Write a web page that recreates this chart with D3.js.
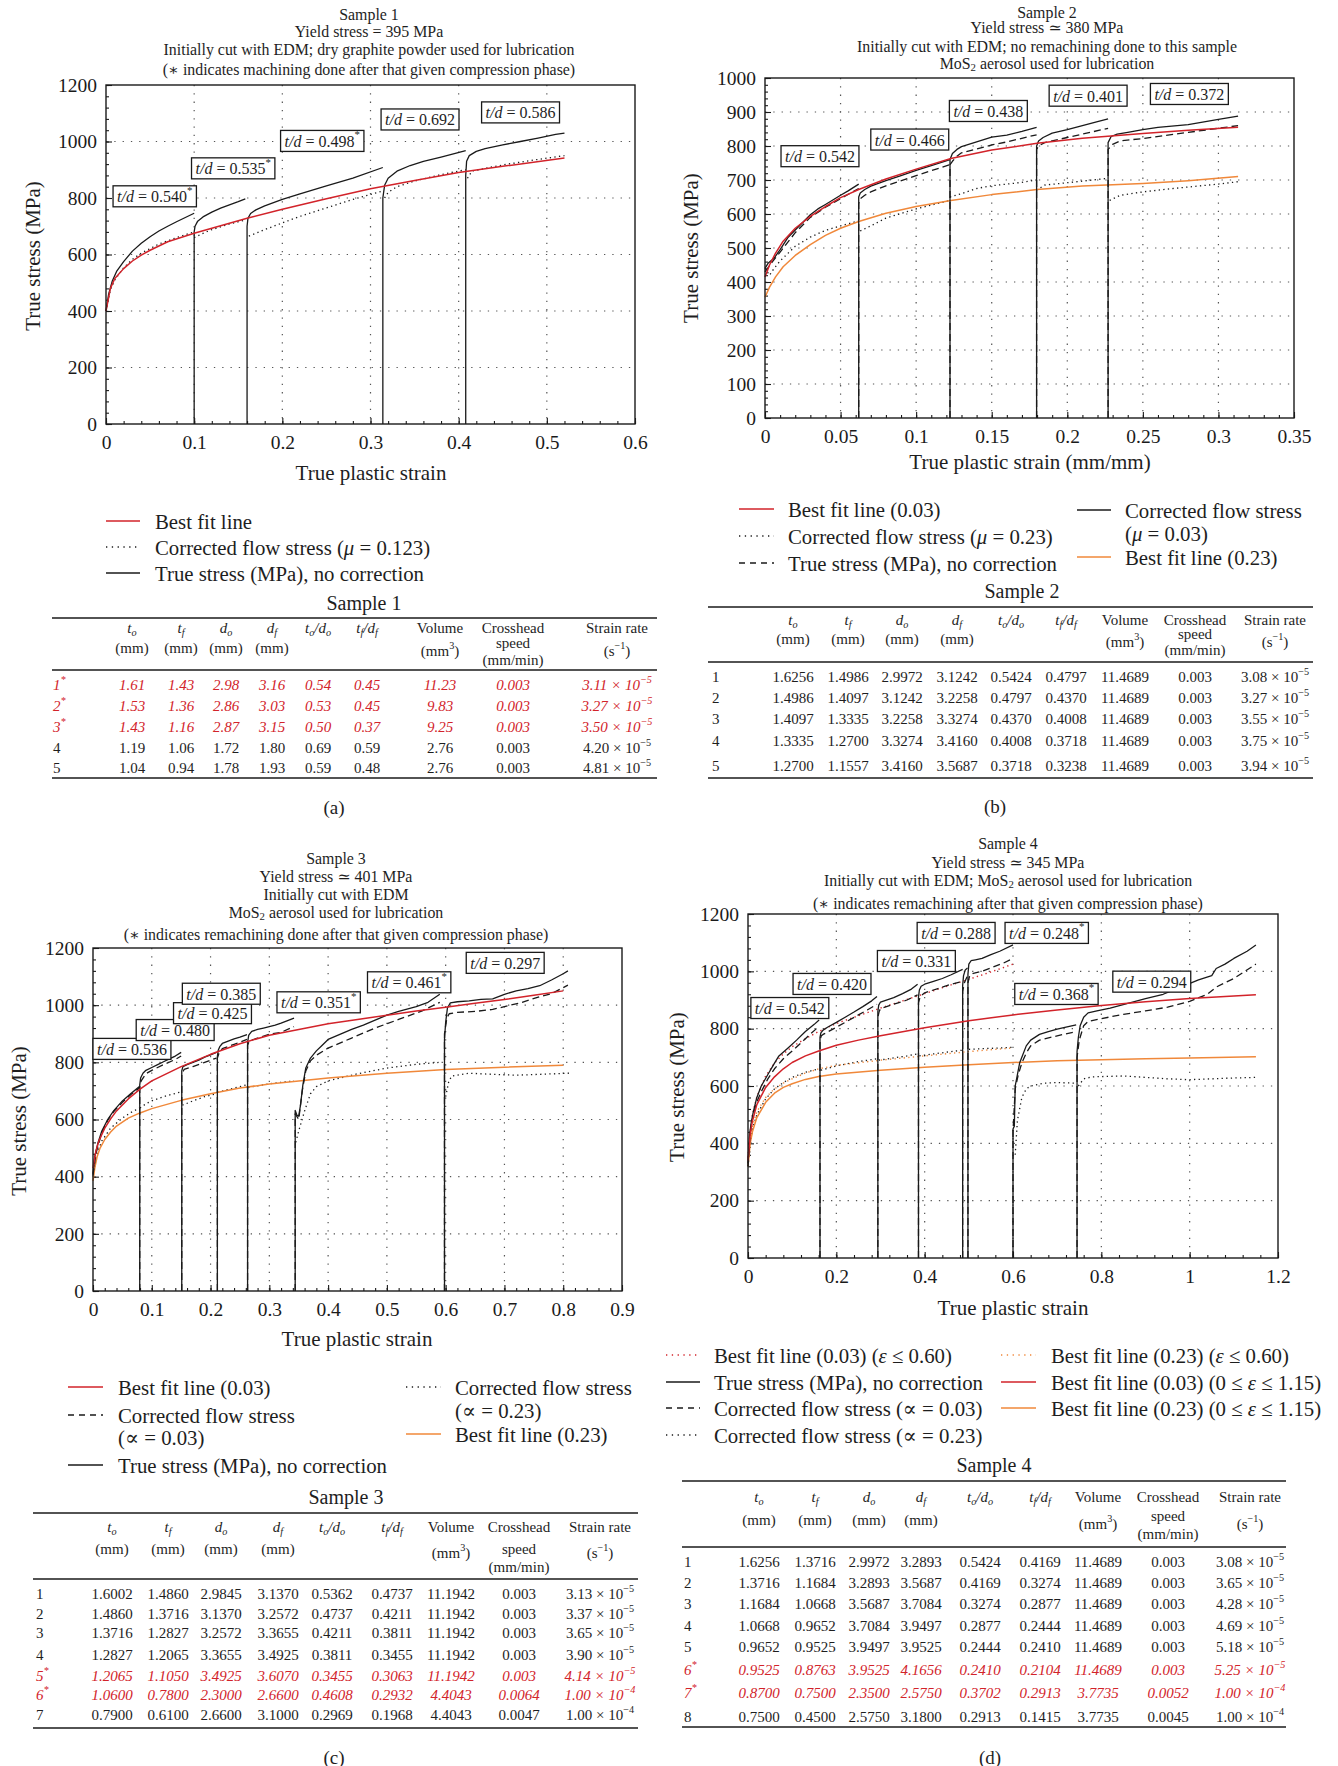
<!DOCTYPE html>
<html><head><meta charset="utf-8">
<script src="https://cdn.jsdelivr.net/npm/d3@7"></script>
<style>
body{margin:0;background:#fff}
svg{display:block}
text{font-family:"Liberation Serif","DejaVu Serif","Times New Roman",serif;fill:#1e1e1e}
</style>
</head><body>
<svg id="fig" width="1338" height="1766"></svg>
<script>
// ===================== DATA =====================
// ---- Sample 1 (panel a) ----
const a_bestFit = [[0,400],[0.005,480],[0.01,515],[0.02,550],[0.03,577],[0.04,598],[0.05,615],[0.07,645],[0.1,675],[0.13,702],[0.16,728],[0.2,760],[0.25,797],[0.3,833],[0.35,862],[0.4,890],[0.45,912],[0.52,942]];
const a_trueStress = [
  [[0,400],[0.003,460],[0.007,505],[0.012,540],[0.02,575],[0.03,612],[0.04,640],[0.05,663],[0.06,683],[0.07,700],[0.08,716],[0.09,731],[0.1,746]],
  [[0.1,0],[0.1,680],[0.101,700],[0.104,718],[0.11,733],[0.12,750],[0.13,764],[0.14,776],[0.15,787],[0.158,797]],
  [[0.16,0],[0.16,700],[0.161,728],[0.164,745],[0.17,758],[0.18,772],[0.2,795],[0.22,815],[0.25,843],[0.28,870],[0.314,908]],
  [[0.314,0],[0.314,800],[0.316,845],[0.32,870],[0.33,895],[0.345,915],[0.36,930],[0.38,945],[0.408,968]],
  [[0.408,0],[0.408,880],[0.409,930],[0.412,950],[0.42,965],[0.43,975],[0.45,988],[0.47,1000],[0.49,1012],[0.51,1025],[0.52,1030]]
];
const a_corrected = [
  [[0,400],[0.005,475],[0.01,510],[0.02,553],[0.03,583],[0.04,605],[0.06,637],[0.08,660],[0.1,680]],
  [[0.1,660],[0.11,675],[0.12,688],[0.13,698],[0.14,708],[0.158,722]],
  [[0.162,665],[0.17,675],[0.18,688],[0.2,712],[0.22,735],[0.25,765],[0.28,795],[0.314,825]],
  [[0.316,800],[0.32,820],[0.33,840],[0.35,860],[0.38,883],[0.408,900]],
  [[0.41,870],[0.415,895],[0.43,905],[0.45,917],[0.48,932],[0.52,950]]
];
const a_tdLabels = ["0.540*","0.535*","0.498*","0.692","0.586"];
const a_tdAnchors = [[0.008,806],[0.097,905],[0.198,1002],[0.312,1078],[0.426,1103]];
const a_legend = ["Best fit line","Corrected flow stress (~μ~ = 0.123)","True stress (MPa), no correction"];
const a_tableRows = [
  ["1*","1.61","1.43","2.98","3.16","0.54","0.45","11.23","0.003","3.11 × 10^{−5}"],
  ["2*","1.53","1.36","2.86","3.03","0.53","0.45","9.83","0.003","3.27 × 10^{−5}"],
  ["3*","1.43","1.16","2.87","3.15","0.50","0.37","9.25","0.003","3.50 × 10^{−5}"],
  ["4","1.19","1.06","1.72","1.80","0.69","0.59","2.76","0.003","4.20 × 10^{−5}"],
  ["5","1.04","0.94","1.78","1.93","0.59","0.48","2.76","0.003","4.81 × 10^{−5}"]
];

// ---- Sample 2 (panel b) ----
const b_bestFit003 = [[0,415],[0.003,450],[0.007,485],[0.012,520],[0.02,558],[0.03,593],[0.04,622],[0.05,648],[0.062,672],[0.08,703],[0.1,732],[0.123,763],[0.15,788],[0.18,808],[0.21,823],[0.25,837],[0.28,846],[0.313,855]];
const b_bestFit023 = [[0,355],[0.003,385],[0.007,415],[0.012,445],[0.02,478],[0.03,510],[0.04,537],[0.05,558],[0.062,578],[0.08,602],[0.1,622],[0.123,640],[0.15,657],[0.18,672],[0.21,682],[0.25,690],[0.28,698],[0.313,710]];
const b_corrected003 = [
  [[0,440],[0.002,455],[0.006,470],[0.01,495],[0.015,530],[0.02,553],[0.03,598],[0.035,615],[0.04,628],[0.05,655],[0.055,668],[0.062,688]],
  [[0.062,0],[0.062,650],[0.063,662],[0.066,672],[0.07,682],[0.08,698],[0.09,713],[0.1,728],[0.11,742],[0.1224,760]],
  [[0.1224,0],[0.1224,760],[0.124,778],[0.127,790],[0.13,798],[0.14,812],[0.15,826],[0.16,832],[0.17,843],[0.1797,855]],
  [[0.1797,0],[0.1797,800],[0.181,815],[0.184,825],[0.19,838],[0.2,848],[0.21,860],[0.22,872],[0.227,880]],
  [[0.227,0],[0.227,810],[0.229,828],[0.233,835],[0.24,840],[0.25,848],[0.26,855],[0.28,863],[0.3,878],[0.313,888]]
];
const b_trueStress = [
  [[0,430],[0.005,460],[0.01,488],[0.02,545],[0.03,590],[0.04,620],[0.05,645],[0.062,675]],
  [[0.062,0],[0.062,630],[0.063,645],[0.066,655],[0.07,665],[0.08,683],[0.1,713],[0.1224,745]],
  [[0.1224,0],[0.1224,745],[0.124,755],[0.127,770],[0.13,780],[0.15,803],[0.16,812],[0.1797,833]],
  [[0.1797,0],[0.1797,790],[0.181,800],[0.185,810],[0.2,825],[0.227,852]],
  [[0.227,0],[0.227,790],[0.23,805],[0.235,815],[0.25,822],[0.28,840],[0.313,860]]
];
const b_corrected023 = [
  [[0,440],[0.003,420],[0.006,440],[0.01,462],[0.02,505],[0.03,532],[0.04,552],[0.05,565],[0.062,580]],
  [[0.063,550],[0.07,565],[0.08,588],[0.1,615],[0.1224,640]],
  [[0.1224,650],[0.13,660],[0.14,675],[0.15,683],[0.17,693],[0.1797,700]],
  [[0.1797,670],[0.185,685],[0.2,692],[0.227,705]],
  [[0.228,640],[0.235,655],[0.25,665],[0.27,675],[0.3,688],[0.313,695]]
];
const b_tdLabels = ["0.542","0.466","0.438","0.401","0.372"];
const b_tdAnchors = [[0.0106,770],[0.070,819],[0.122,903],[0.188,948],[0.255,953]];
const b_legend = ["Best fit line (0.03)","Corrected flow stress (~μ~ = 0.23)","True stress (MPa), no correction","Corrected flow stress","(~μ~ = 0.03)","Best fit line (0.23)"];
const b_tableRows = [
  ["1","1.6256","1.4986","2.9972","3.1242","0.5424","0.4797","11.4689","0.003","3.08 × 10^{−5}"],
  ["2","1.4986","1.4097","3.1242","3.2258","0.4797","0.4370","11.4689","0.003","3.27 × 10^{−5}"],
  ["3","1.4097","1.3335","3.2258","3.3274","0.4370","0.4008","11.4689","0.003","3.55 × 10^{−5}"],
  ["4","1.3335","1.2700","3.3274","3.4160","0.4008","0.3718","11.4689","0.003","3.75 × 10^{−5}"],
  ["5","1.2700","1.1557","3.4160","3.5687","0.3718","0.3238","11.4689","0.003","3.94 × 10^{−5}"]
];

// ---- Sample 3 (panel c) ----
const c_bestFit003 = [[0,430],[0.005,490],[0.01,525],[0.02,570],[0.03,602],[0.04,630],[0.06,672],[0.08,706],[0.1,735],[0.15,785],[0.2,828],[0.25,865],[0.3,895],[0.35,915],[0.4,935],[0.45,950],[0.5,965],[0.55,980],[0.6,993],[0.65,1007],[0.7,1020],[0.75,1035],[0.8,1050]];
const c_bestFit023 = [[0,385],[0.003,430],[0.007,470],[0.012,500],[0.02,530],[0.03,556],[0.04,577],[0.06,605],[0.08,623],[0.1,638],[0.15,667],[0.2,690],[0.25,710],[0.3,724],[0.35,735],[0.4,745],[0.5,762],[0.6,775],[0.7,783],[0.8,790]];
const c_trueStress = [
  [[0,410],[0.003,470],[0.008,515],[0.015,560],[0.025,600],[0.035,630],[0.05,665],[0.065,692],[0.079,715]],
  [[0.0795,0],[0.0795,720],[0.081,745],[0.085,762],[0.09,772],[0.1,782],[0.11,792],[0.12,802],[0.13,812],[0.14,822],[0.15,835]],
  [[0.151,0],[0.151,770],[0.153,785],[0.16,792],[0.17,800],[0.18,808],[0.19,818],[0.2,826],[0.21,835]],
  [[0.2116,0],[0.2116,820],[0.213,842],[0.216,856],[0.22,866],[0.23,874],[0.24,882],[0.25,888],[0.262,897]],
  [[0.263,0],[0.263,870],[0.265,895],[0.27,908],[0.28,915],[0.29,920],[0.3,925],[0.31,930],[0.32,937],[0.33,945],[0.342,955]],
  [[0.344,0],[0.344,632],[0.347,615],[0.35,612],[0.353,650],[0.357,720],[0.362,780],[0.37,815],[0.38,840],[0.39,860],[0.4,880],[0.42,898],[0.44,915],[0.46,930],[0.48,948],[0.5,965],[0.52,978],[0.55,995],[0.57,1010],[0.59,1038]],
  [[0.598,0],[0.598,880],[0.6,940],[0.603,990],[0.608,1008],[0.62,1012],[0.64,1015],[0.66,1020],[0.68,1022],[0.7,1038],[0.72,1050],[0.74,1058],[0.76,1068],[0.78,1088],[0.8,1110],[0.808,1120]]
];
const c_corrected003 = [
  [[0,405],[0.005,480],[0.015,555],[0.025,597],[0.035,627],[0.05,660],[0.065,688],[0.079,710]],
  [[0.0795,0],[0.0795,715],[0.082,735],[0.09,760],[0.1,772],[0.12,792],[0.14,810],[0.15,822]],
  [[0.151,0],[0.151,760],[0.155,775],[0.17,785],[0.19,800],[0.21,815]],
  [[0.2116,0],[0.2116,815],[0.214,830],[0.22,848],[0.24,863],[0.262,880]],
  [[0.263,0],[0.263,860],[0.266,875],[0.28,885],[0.3,898],[0.32,905],[0.342,925]],
  [[0.344,0],[0.344,620],[0.35,600],[0.356,700],[0.362,770],[0.37,805],[0.38,825],[0.4,850],[0.44,885],[0.48,920],[0.52,950],[0.56,980],[0.59,1010]],
  [[0.598,0],[0.598,900],[0.602,955],[0.606,970],[0.62,975],[0.65,978],[0.68,985],[0.7,995],[0.73,1010],[0.76,1030],[0.78,1040],[0.808,1070]]
];
const c_corrected023 = [
  [[0,400],[0.005,470],[0.015,525],[0.03,570],[0.05,605],[0.065,625],[0.079,640]],
  [[0.08,640],[0.09,655],[0.1,665],[0.12,680],[0.15,697]],
  [[0.152,650],[0.17,665],[0.19,680],[0.21,690]],
  [[0.212,695],[0.23,705],[0.25,715],[0.262,722]],
  [[0.264,712],[0.28,718],[0.3,725],[0.32,730],[0.342,735]],
  [[0.345,520],[0.35,560],[0.36,630],[0.37,690],[0.38,715],[0.4,735],[0.45,760],[0.5,780],[0.55,793],[0.59,800]],
  [[0.6,680],[0.605,730],[0.61,752],[0.64,762],[0.68,758],[0.72,755],[0.76,758],[0.81,762]]
];
const c_tdLabels = ["0.536","0.480","0.425","0.385","0.351*","0.461*","0.297"];
const c_tdAnchors = [[0.0,847],[0.0735,913],[0.137,972],[0.152,1040],[0.313,1010],[0.467,1080],[0.635,1148]];
const c_legend = ["Best fit line (0.03)","Corrected flow stress","(∝ = 0.03)","True stress (MPa), no correction","Corrected flow stress","(∝ = 0.23)","Best fit line (0.23)"];
const c_tableRows = [
  ["1","1.6002","1.4860","2.9845","3.1370","0.5362","0.4737","11.1942","0.003","3.13 × 10^{−5}"],
  ["2","1.4860","1.3716","3.1370","3.2572","0.4737","0.4211","11.1942","0.003","3.37 × 10^{−5}"],
  ["3","1.3716","1.2827","3.2572","3.3655","0.4211","0.3811","11.1942","0.003","3.65 × 10^{−5}"],
  ["4","1.2827","1.2065","3.3655","3.4925","0.3811","0.3455","11.1942","0.003","3.90 × 10^{−5}"],
  ["5*","1.2065","1.1050","3.4925","3.6070","0.3455","0.3063","11.1942","0.003","4.14 × 10^{−5}"],
  ["6*","1.0600","0.7800","2.3000","2.6600","0.4608","0.2932","4.4043","0.0064","1.00 × 10^{−4}"],
  ["7","0.7900","0.6100","2.6600","3.1000","0.2969","0.1968","4.4043","0.0047","1.00 × 10^{−4}"]
];

// ---- Sample 4 (panel d) ----
const d_bestFit003 = [[0,340],[0.005,430],[0.01,478],[0.02,535],[0.04,595],[0.06,632],[0.08,660],[0.1,682],[0.13,705],[0.16,722],[0.2,742],[0.25,760],[0.3,775],[0.4,803],[0.5,828],[0.6,848],[0.7,865],[0.8,881],[0.9,894],[1.0,905],[1.1,914],[1.15,918]];
const d_bestFit023 = [[0,320],[0.005,400],[0.01,440],[0.02,490],[0.04,543],[0.06,575],[0.08,595],[0.1,608],[0.13,623],[0.16,633],[0.2,642],[0.3,655],[0.4,665],[0.5,674],[0.6,682],[0.7,688],[0.8,692],[0.9,695],[1.0,698],[1.15,702]];
const d_bestFit003_060 = [[0,350],[0.005,440],[0.01,500],[0.02,562],[0.04,635],[0.06,680],[0.08,712],[0.1,737],[0.13,765],[0.16,790],[0.2,818],[0.25,845],[0.3,872],[0.35,897],[0.4,922],[0.45,948],[0.5,972],[0.55,998],[0.6,1025]];
const d_bestFit023_060 = [[0,330],[0.005,420],[0.01,460],[0.02,510],[0.04,560],[0.06,590],[0.08,610],[0.1,625],[0.13,645],[0.16,660],[0.2,672],[0.3,690],[0.4,705],[0.5,720],[0.6,733]];
const d_trueStress = [
  [[0,330],[0.003,420],[0.007,470],[0.012,510],[0.02,560],[0.03,600],[0.045,640],[0.06,680],[0.07,705],[0.09,732],[0.11,760],[0.13,790],[0.15,815],[0.161,830]],
  [[0.163,0],[0.163,770],[0.165,785],[0.17,795],[0.18,805],[0.2,822],[0.22,840],[0.24,858],[0.26,877],[0.28,897],[0.292,912]],
  [[0.294,0],[0.294,860],[0.296,882],[0.3,893],[0.31,898],[0.33,908],[0.35,922],[0.37,938],[0.384,955]],
  [[0.386,0],[0.386,910],[0.388,935],[0.392,948],[0.4,955],[0.42,965],[0.44,975],[0.46,988],[0.486,1007]],
  [[0.486,0],[0.486,950],[0.488,985],[0.492,1005],[0.497,1012]],
  [[0.498,0],[0.498,990],[0.5,1025],[0.505,1037],[0.515,1040],[0.53,1045],[0.55,1058],[0.57,1070],[0.6,1092]],
  [[0.6,0],[0.6,450],[0.603,460],[0.605,600],[0.61,640],[0.615,680],[0.62,700],[0.63,740],[0.64,760],[0.66,780],[0.68,790],[0.7,798],[0.72,805],[0.743,813]],
  [[0.745,0],[0.745,720],[0.748,770],[0.752,810],[0.76,840],[0.77,855],[0.79,862],[0.82,872],[0.86,888],[0.9,905],[0.94,920],[0.98,945],[1.02,970],[1.05,985],[1.06,1010],[1.08,1025],[1.1,1045],[1.13,1070],[1.15,1092]]
];
const d_corrected003 = [
  [[0,320],[0.005,440],[0.012,500],[0.02,545],[0.03,580],[0.045,625],[0.06,660],[0.08,695],[0.1,722],[0.12,750],[0.14,780],[0.161,808]],
  [[0.163,0],[0.163,760],[0.166,775],[0.17,780],[0.18,788],[0.2,805],[0.22,822],[0.25,848],[0.27,865],[0.292,885]],
  [[0.294,0],[0.294,840],[0.297,860],[0.3,870],[0.33,885],[0.36,900],[0.384,918]],
  [[0.386,0],[0.386,890],[0.39,912],[0.4,925],[0.43,940],[0.46,955],[0.486,965]],
  [[0.486,0],[0.486,930],[0.49,960],[0.497,985]],
  [[0.498,0],[0.498,960],[0.502,985],[0.51,993],[0.53,1000],[0.55,1012],[0.58,1030],[0.6,1045]],
  [[0.6,0],[0.6,440],[0.605,590],[0.612,640],[0.62,680],[0.63,715],[0.64,740],[0.66,760],[0.7,775],[0.743,790]],
  [[0.745,0],[0.745,700],[0.75,760],[0.76,810],[0.77,825],[0.8,835],[0.85,850],[0.9,862],[0.95,875],[1.0,895],[1.04,920],[1.06,945],[1.1,975],[1.15,1025]]
];
const d_corrected023 = [
  [[0,320],[0.01,450],[0.02,500],[0.04,555],[0.06,590],[0.08,612],[0.1,630],[0.13,648],[0.161,660]],
  [[0.165,655],[0.2,670],[0.25,685],[0.292,695]],
  [[0.296,690],[0.33,698],[0.36,705],[0.384,712]],
  [[0.388,705],[0.42,712],[0.46,720],[0.486,725]],
  [[0.5,728],[0.53,730],[0.56,732],[0.6,735]],
  [[0.605,360],[0.61,480],[0.62,560],[0.63,590],[0.64,600],[0.67,610],[0.7,612],[0.743,610]],
  [[0.748,600],[0.76,625],[0.78,632],[0.85,635],[0.9,630],[0.95,625],[1.0,622],[1.05,625],[1.1,628],[1.15,630]]
];
const d_tdLabels = ["0.542","0.420","0.331","0.288","0.248*","0.368*","0.294"];
const d_tdAnchors = [[0.0065,872],[0.102,956],[0.293,1036],[0.383,1134],[0.582,1134],[0.604,921],[0.826,964]];
const d_legend = ["Best fit line (0.03) (~ε~ ≤ 0.60)","True stress (MPa), no correction","Corrected flow stress (∝ = 0.03)","Corrected flow stress (∝ = 0.23)","Best fit line (0.23) (~ε~ ≤ 0.60)","Best fit line (0.03) (0 ≤ ~ε~ ≤ 1.15)","Best fit line (0.23) (0 ≤ ~ε~ ≤ 1.15)"];
const d_tableRows = [
  ["1","1.6256","1.3716","2.9972","3.2893","0.5424","0.4169","11.4689","0.003","3.08 × 10^{−5}"],
  ["2","1.3716","1.1684","3.2893","3.5687","0.4169","0.3274","11.4689","0.003","3.65 × 10^{−5}"],
  ["3","1.1684","1.0668","3.5687","3.7084","0.3274","0.2877","11.4689","0.003","4.28 × 10^{−5}"],
  ["4","1.0668","0.9652","3.7084","3.9497","0.2877","0.2444","11.4689","0.003","4.69 × 10^{−5}"],
  ["5","0.9652","0.9525","3.9497","3.9525","0.2444","0.2410","11.4689","0.003","5.18 × 10^{−5}"],
  ["6*","0.9525","0.8763","3.9525","4.1656","0.2410","0.2104","11.4689","0.003","5.25 × 10^{−5}"],
  ["7*","0.8700","0.7500","2.3500","2.5750","0.3702","0.2913","3.7735","0.0052","1.00 × 10^{−4}"],
  ["8","0.7500","0.4500","2.5750","3.1800","0.2913","0.1415","3.7735","0.0045","1.00 × 10^{−4}"]
];

// shared table header labels
const tableHeaders = [
  [""],
  ["~t~_{~o~}","(mm)"],
  ["~t~_{~f~}","(mm)"],
  ["~d~_{~o~}","(mm)"],
  ["~d~_{~f~}","(mm)"],
  ["~t~_{~o~}~/d~_{~o~}"],
  ["~t~_{~f~}~/d~_{~f~}"],
  ["Volume","(mm^{3})"],
  ["Crosshead","speed","(mm/min)"],
  ["Strain rate","(s^{−1})"]
];

// titles
const a_title = ["Sample 1","Yield stress = 395 MPa","Initially cut with EDM; dry graphite powder used for lubrication","(∗ indicates machining done after that given compression phase)"];
const b_title = ["Sample 2","Yield stress ≃ 380 MPa","Initially cut with EDM; no remachining done to this sample","MoS_{2} aerosol used for lubrication"];
const c_title = ["Sample 3","Yield stress ≃ 401 MPa","Initially cut with EDM","MoS_{2} aerosol used for lubrication","(∗ indicates remachining done after that given compression phase)"];
const d_title = ["Sample 4","Yield stress ≃ 345 MPa","Initially cut with EDM; MoS_{2} aerosol used for lubrication","(∗ indicates remachining after that given compression phase)"];

// ===================== DRAWING =====================
const svg = d3.select('#fig');
const RED = '#d2232a', ORANGE = '#f0883a', INK = '#1a1a1a';
const STY = {
  red:{stroke:RED,w:1.5,dash:null},
  orange:{stroke:ORANGE,w:1.5,dash:null},
  solid:{stroke:INK,w:1.3,dash:null},
  dashed:{stroke:INK,w:1.3,dash:'7,4'},
  dotted:{stroke:INK,w:1.3,dash:'1.3,3.3'},
  redDot:{stroke:RED,w:1.4,dash:'1.3,3.3'},
  orangeDot:{stroke:ORANGE,w:1.4,dash:'1.3,3.3'}
};
const LEG_FS = 20.8, TITLE_FS = 15.9, AXT_FS = 21, TICK_FS = 19.5, TAB_FS = 15, TABT_FS = 20;

function rich(sel, markup, size){
  const runs=[]; let it=false, mode=0, buf='';
  const push=()=>{ if(buf){runs.push({t:buf,i:it,m:mode}); buf='';} };
  for(let k=0;k<markup.length;k++){
    const ch=markup[k];
    if(ch==='~'){push(); it=!it;}
    else if((ch==='_'||ch==='^')&&markup[k+1]==='{'){push(); mode=ch==='_'?1:2; k++;}
    else if(ch==='}'&&mode){push(); mode=0;}
    else buf+=ch;
  }
  push();
  let cur=0;
  runs.forEach(r=>{
    const target = r.m===1?0.28:(r.m===2?-0.42:0);
    const ts=sel.append('tspan').text(r.t);
    if(target!==cur) ts.attr('dy',((target-cur)*size)+'px');
    if(r.m) ts.attr('font-size',(size*0.68)+'px');
    if(r.i) ts.attr('font-style','italic');
    cur=target;
  });
  return sel;
}
function txt(x,y,markup,size,opts={}){
  const t=svg.append('text').attr('x',x).attr('y',y).attr('font-size',size+'px')
    .attr('dominant-baseline','central').attr('text-anchor',opts.anchor||'start');
  if(opts.fill) t.style('fill',opts.fill);
  if(opts.italic) t.attr('font-style','italic');
  if(opts.rotate) t.attr('transform',`rotate(-90,${x},${y})`);
  rich(t,markup,size);
  return t;
}
function styled(p,s,legend){
  p.attr('fill','none').attr('stroke',s.stroke).attr('stroke-width',s.w).attr('stroke-linejoin','round');
  if(s.dash) p.attr('stroke-dasharray', legend ? (s.dash==='7,4'?'6,5':'1.3,4.5') : s.dash);
  return p;
}

function drawChart(c){
  const x=d3.scaleLinear().domain([0,c.xMax]).range([c.left,c.right]);
  const y=d3.scaleLinear().domain([0,c.yMax]).range([c.bottom,c.top]);
  const g=svg.append('g');
  const nx=Math.round(c.xMax/c.xStep), ny=Math.round(c.yMax/c.yStep);
  const xMaj=d3.range(nx+1).map(i=>+(i*c.xStep).toFixed(5));
  const yMaj=d3.range(ny+1).map(i=>i*c.yStep);
  const xMin=d3.range(nx*c.minor+1).map(i=>i*c.xStep/c.minor);
  const yMin=d3.range(ny*c.minor+1).map(i=>i*c.yStep/c.minor);
  // grid
  g.append('g').selectAll('line').data(xMaj.slice(1,-1)).join('line')
    .attr('x1',d=>x(d)).attr('x2',d=>x(d)).attr('y1',c.top).attr('y2',c.bottom)
    .attr('stroke','#555').attr('stroke-width',1.2).attr('stroke-dasharray','1.3,7');
  g.append('g').selectAll('line').data(yMaj.slice(1,-1)).join('line')
    .attr('y1',d=>y(d)).attr('y2',d=>y(d)).attr('x1',c.left).attr('x2',c.right)
    .attr('stroke','#555').attr('stroke-width',1.2).attr('stroke-dasharray','1.3,7');
  // axes
  const fmt=v=>String(+v.toFixed(3));
  const styleAxis=a=>{a.select('.domain').remove(); a.attr('color',INK).attr('font-family','"Liberation Serif",serif').attr('font-size',TICK_FS);
    a.selectAll('text').style('fill',INK); a.selectAll('line').attr('stroke-width',1.1);};
  g.append('g').attr('transform',`translate(0,${c.bottom})`).call(d3.axisBottom(x).tickValues(xMin).tickSize(-3).tickFormat('')).call(styleAxis);
  g.append('g').attr('transform',`translate(${c.left},0)`).call(d3.axisLeft(y).tickValues(yMin).tickSize(-3).tickFormat('')).call(styleAxis);
  g.append('g').attr('transform',`translate(0,${c.bottom})`).call(d3.axisBottom(x).tickValues(xMaj).tickSize(-6).tickPadding(11).tickFormat(fmt)).call(styleAxis);
  g.append('g').attr('transform',`translate(${c.left},0)`).call(d3.axisLeft(y).tickValues(yMaj).tickSize(-6).tickPadding(9).tickFormat(fmt)).call(styleAxis);
  // curves
  const line=d3.line().x(d=>x(d[0])).y(d=>y(d[1]));
  c.series.forEach(s=>{
    s.segs.forEach(seg=>styled(g.append('path').attr('d',line(seg)),STY[s.style]));
  });
  // frame
  g.append('rect').attr('x',c.left).attr('y',c.top).attr('width',c.right-c.left).attr('height',c.bottom-c.top)
    .attr('fill','none').attr('stroke',INK).attr('stroke-width',1.4);
  // t/d boxes
  c.labels.forEach((lab,i)=>{
    const [lx,ly]=c.anchors[i];
    const t=g.append('text').attr('x',x(lx)+4).attr('y',y(ly)).attr('font-size','16px').attr('dominant-baseline','central');
    rich(t,'~t/d~ = '+lab.replace('*','^{*}'),16);
    const bb=t.node().getBBox();
    g.insert('rect',()=>t.node()).attr('x',x(lx)).attr('y',y(ly)-10.5).attr('width',bb.width+8).attr('height',21)
      .attr('fill','#fff').attr('stroke',INK).attr('stroke-width',1.3);
  });
  // titles
  c.title.forEach((tl,i)=>txt(c.titleX,c.titleY[i],tl,TITLE_FS,{anchor:'middle'}));
  txt(c.xTitle[0],c.xTitle[1],c.xLabel,AXT_FS,{anchor:'middle'});
  txt(c.yTitle[0],c.yTitle[1],'True stress (MPa)',AXT_FS,{anchor:'middle',rotate:true});
}

function legendItem(x1,x2,tx,yy,style,labels,gap){
  if(style) styled(svg.append('line').attr('x1',x1).attr('x2',x2).attr('y1',yy).attr('y2',yy),STY[style],true);
  labels.forEach((l,i)=>txt(tx,yy+i*gap,l,LEG_FS));
}

function drawTable(t,rows){
  txt(t.titleX,t.titleY,t.title,TABT_FS,{anchor:'middle'});
  t.rules.forEach(ry=>svg.append('line').attr('x1',t.x0).attr('x2',t.x1).attr('y1',ry).attr('y2',ry).attr('stroke',INK).attr('stroke-width',1.7));
  tableHeaders.forEach((h,ci)=>{
    h.forEach((ln,li)=>{
      if(!ln) return;
      let yy;
      if(li===0) yy=t.hy[0];
      else if(ci===8) yy = li===1?t.hy[3]:t.hy[4];
      else if(ci===7||ci===9) yy=t.hy[2];
      else yy=t.hy[1];
      txt(t.cols[ci],yy,ln,TAB_FS,{anchor:'middle'});
    });
  });
  rows.forEach((r,ri)=>{
    const marked=r[0].includes('*');
    r.forEach((cell,ci)=>{
      const m = ci===0 ? cell.replace('*','^{*}') : cell;
      txt(t.cols[ci], t.rows[ri], m, TAB_FS,
        {anchor:ci===0?'start':'middle', fill:marked?RED:null, italic:marked});
    });
  });
  txt(t.panelX,t.panelY,t.panel,19,{anchor:'middle'});
}

// ---------- Panel (a) ----------
drawChart({left:106,right:635,top:85,bottom:424,xMax:0.6,xStep:0.1,yMax:1200,yStep:200,minor:5,
  series:[
    {segs:a_corrected,style:'dotted'},
    {segs:a_trueStress,style:'solid'},
    {segs:[a_bestFit],style:'red'}],
  labels:a_tdLabels,anchors:a_tdAnchors,
  title:a_title,titleX:369,titleY:[14,31,49,69],
  xLabel:'True plastic strain',xTitle:[371,473],yTitle:[33,256]});
legendItem(106,140,155,521,'red',[a_legend[0]],0);
legendItem(106,140,155,547,'dotted',[a_legend[1]],0);
legendItem(106,140,155,573,'solid',[a_legend[2]],0);
drawTable({title:'Sample 1',titleX:364,titleY:603,x0:52,x1:657,rules:[618,670,778],
  hy:[628,648,651,643,660],rows:[685,706,727,748,768],
  cols:[53,132,181,226,272,318,367,440,513,617],panel:'(a)',panelX:334,panelY:807},a_tableRows);

// ---------- Panel (b) ----------
drawChart({left:765,right:1294,top:78,bottom:418,xMax:0.35,xStep:0.05,yMax:1000,yStep:100,minor:5,
  series:[
    {segs:b_corrected023,style:'dotted'},
    {segs:[b_bestFit023],style:'orange'},
    {segs:b_trueStress,style:'dashed'},
    {segs:b_corrected003,style:'solid'},
    {segs:[b_bestFit003],style:'red'}],
  labels:b_tdLabels,anchors:b_tdAnchors,
  title:b_title,titleX:1047,titleY:[12,27,46,63],
  xLabel:'True plastic strain (mm/mm)',xTitle:[1030,462],yTitle:[691,248]});
legendItem(739,774,788,509,'red',[b_legend[0]],0);
legendItem(739,774,788,536,'dotted',[b_legend[1]],0);
legendItem(739,774,788,563,'dashed',[b_legend[2]],0);
legendItem(1077,1111,1125,510,'solid',[b_legend[3],b_legend[4]],23);
legendItem(1077,1111,1125,557,'orange',[b_legend[5]],0);
drawTable({title:'Sample 2',titleX:1022,titleY:591,x0:708,x1:1313,rules:[607,662,778],
  hy:[620,639,642,634,650],rows:[677,698,719,741,766],
  cols:[712,793,848,902,957,1011,1066,1125,1195,1275],panel:'(b)',panelX:995,panelY:806},b_tableRows);

// ---------- Panel (c) ----------
drawChart({left:93,right:622,top:948,bottom:1291,xMax:0.9,xStep:0.1,yMax:1200,yStep:200,minor:5,
  series:[
    {segs:c_corrected023,style:'dotted'},
    {segs:[c_bestFit023],style:'orange'},
    {segs:c_corrected003,style:'dashed'},
    {segs:c_trueStress,style:'solid'},
    {segs:[c_bestFit003],style:'red'}],
  labels:c_tdLabels,anchors:c_tdAnchors,
  title:c_title,titleX:336,titleY:[858,876,894,912,934],
  xLabel:'True plastic strain',xTitle:[357,1339],yTitle:[19,1121]});
legendItem(68,103,118,1387,'red',[c_legend[0]],0);
legendItem(68,103,118,1415,'dashed',[c_legend[1],c_legend[2]],22);
legendItem(68,103,118,1465,'solid',[c_legend[3]],0);
legendItem(406,441,455,1387,'dotted',[c_legend[4],c_legend[5]],23);
legendItem(406,441,455,1434,'orange',[c_legend[6]],0);
drawTable({title:'Sample 3',titleX:346,titleY:1497,x0:33,x1:638,rules:[1513,1579,1728],
  hy:[1527,1549,1553,1549,1567],rows:[1594,1614,1633,1655,1676,1695,1715],
  cols:[36,112,168,221,278,332,392,451,519,600],panel:'(c)',panelX:334,panelY:1757},c_tableRows);

// ---------- Panel (d) ----------
drawChart({left:748,right:1278,top:914,bottom:1258,xMax:1.2,xStep:0.2,yMax:1200,yStep:200,minor:5,
  series:[
    {segs:d_corrected023,style:'dotted'},
    {segs:[d_bestFit023_060],style:'orangeDot'},
    {segs:[d_bestFit003_060],style:'redDot'},
    {segs:[d_bestFit023],style:'orange'},
    {segs:d_corrected003,style:'dashed'},
    {segs:d_trueStress,style:'solid'},
    {segs:[d_bestFit003],style:'red'}],
  labels:d_tdLabels,anchors:d_tdAnchors,
  title:d_title,titleX:1008,titleY:[843,862,880,903],
  xLabel:'True plastic strain',xTitle:[1013,1308],yTitle:[677,1087]});
legendItem(666,700,714,1355,'redDot',[d_legend[0]],0);
legendItem(666,700,714,1382,'solid',[d_legend[1]],0);
legendItem(666,700,714,1408,'dashed',[d_legend[2]],0);
legendItem(666,700,714,1435,'dotted',[d_legend[3]],0);
legendItem(1001,1036,1051,1355,'orangeDot',[d_legend[4]],0);
legendItem(1001,1036,1051,1382,'red',[d_legend[5]],0);
legendItem(1001,1036,1051,1408,'orange',[d_legend[6]],0);
drawTable({title:'Sample 4',titleX:994,titleY:1465,x0:682,x1:1286,rules:[1481,1547,1727],
  hy:[1497,1520,1524,1516,1534],rows:[1562,1583,1604,1626,1647,1670,1693,1717],
  cols:[684,759,815,869,921,980,1040,1098,1168,1250],panel:'(d)',panelX:990,panelY:1757},d_tableRows);
</script>
</body></html>
